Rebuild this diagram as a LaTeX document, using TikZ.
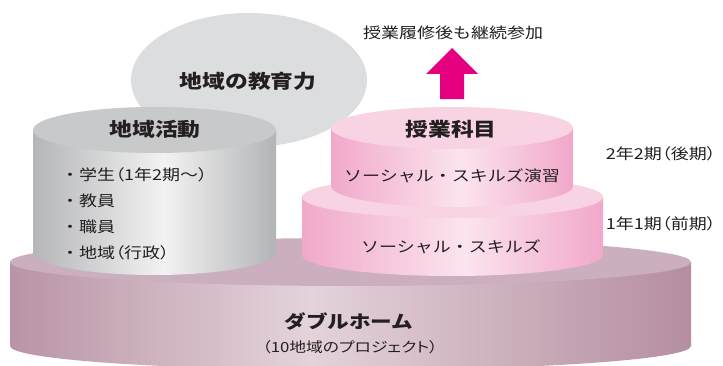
\documentclass[tikz,border=0pt]{standalone}
\usepackage{fontspec}
\setmainfont{Noto Sans CJK JP}[FakeStretch=1.2]
\newfontfamily\jpalt{Noto Sans CJK JP}[FakeStretch=1.2,RawFeature=+palt]
\definecolor{ink}{HTML}{231F20}
\definecolor{cloud}{HTML}{DCDDDE}
\definecolor{gTop}{HTML}{C8C9CB}
\definecolor{gL}{HTML}{B5B6B8}
\definecolor{gM}{HTML}{F2F2F2}
\definecolor{gR}{HTML}{B3B4B6}
\definecolor{pTop}{HTML}{F8D3E4}
\definecolor{pL}{HTML}{F1A9CA}
\definecolor{pM}{HTML}{FBE4EE}
\definecolor{pR}{HTML}{F1A8CA}
\definecolor{bTop}{HTML}{CBAFBE}
\definecolor{bL}{HTML}{B994A6}
\definecolor{bM}{HTML}{E4D3DB}
\definecolor{bR}{HTML}{B58EA1}
\definecolor{arrowc}{HTML}{E5007F}
\pgfdeclarehorizontalshading{grayside}{100bp}{color(0bp)=(gL); color(25bp)=(gL); color(52bp)=(gM); color(75bp)=(gR); color(100bp)=(gR)}
\pgfdeclarehorizontalshading{pinkside}{100bp}{color(0bp)=(pL); color(25bp)=(pL); color(52bp)=(pM); color(75bp)=(pR); color(100bp)=(pR)}
\pgfdeclarehorizontalshading{baseside}{100bp}{color(0bp)=(bL); color(25bp)=(bL); color(47bp)=(bM); color(75bp)=(bR); color(100bp)=(bR)}
\begin{document}
\begin{tikzpicture}[x=1pt,y=1pt,
  txt/.style={text=ink, inner sep=0pt, font=\fontsize{15}{18}\selectfont},
  alttxt/.style={text=ink, inner sep=0pt, font=\fontsize{15}{18}\selectfont\jpalt},
  head/.style={text=ink, inner sep=0pt, font=\fontsize{19}{22}\selectfont\bfseries}]
\useasboundingbox (0,0) rectangle (723,365);
% cloud ellipse
\fill[cloud] (249,285) ellipse[x radius=118, y radius=67];
% base cylinder
\shade[shading=baseside] (10,103) -- (10,19) arc[start angle=180,end angle=360,x radius=340.5,y radius=24] -- (691,103) -- cycle;
\fill[bTop] (350.5,103) ellipse[x radius=340.5, y radius=24];
% gray cylinder
\shade[shading=grayside] (33,235) -- (33,113) arc[start angle=180,end angle=360,x radius=121.5,y radius=23] -- (276,235) -- cycle;
\fill[gTop] (154.5,235) ellipse[x radius=121.5, y radius=23];
% lower pink cylinder
\shade[shading=pinkside] (302,168) -- (302,110) arc[start angle=180,end angle=360,x radius=150.5,y radius=21] -- (603,168) -- cycle;
\fill[pTop] (452.5,168) ellipse[x radius=150.5, y radius=21];
% upper pink cylinder
\shade[shading=pinkside] (331,237) -- (331,179) arc[start angle=180,end angle=360,x radius=121,y radius=21] -- (573,237) -- cycle;
\fill[pTop] (452,237) ellipse[x radius=121, y radius=21];
% arrow
\fill[arrowc] (440,266) -- (440,291) -- (426,291) -- (452,317) -- (478,291) -- (464,291) -- (464,266) -- cycle;
% texts
\node[txt] (cont) at (453,332) {授業履修後も継続参加};
\node[head] (cloudt) at (248,284) {地域の教育力};
\node[head] (act) at (155,236) {地域活動};
\node[head] (cls) at (451,236) {授業科目};
\node[txt] (ss2) at (452,189) {ソーシャル・スキルズ演習};
\node[txt] (ss1) at (451,118) {ソーシャル・スキルズ};
\node[alttxt, anchor=east] (t2) at (716,211) {2年2期（後期）};
\node[alttxt, anchor=east] (t1) at (716,141) {1年1期（前期）};
\node[txt, anchor=west] (b1) at (61,190) {・{\jpalt 学生（1年2期〜）}};
\node[txt, anchor=west] (b2) at (61,164) {・{\jpalt 教員}};
\node[txt, anchor=west] (b3) at (61,138) {・{\jpalt 職員}};
\node[txt, anchor=west] (b4) at (61,112) {・{\jpalt 地域（行政）}};
\node[head, font=\fontsize{18}{21}\selectfont\bfseries] (dh) at (349,43) {ダブルホーム};
\node[alttxt, font=\fontsize{14}{17}\selectfont\jpalt] (dh2) at (350,18) {（10地域のプロジェクト）};
\end{tikzpicture}
\end{document}
